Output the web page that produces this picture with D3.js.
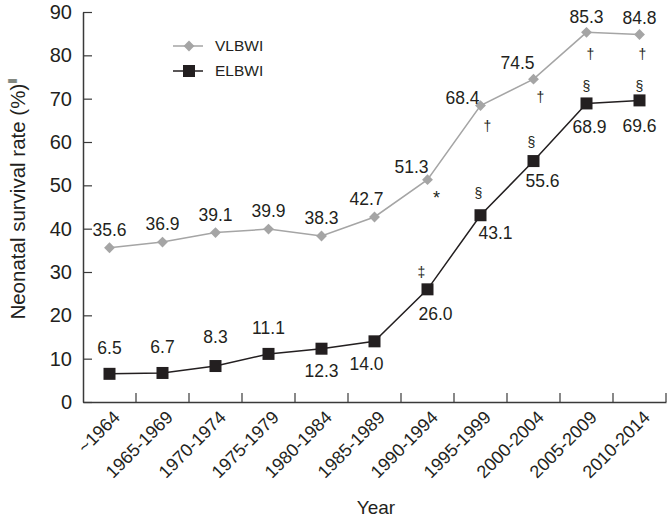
<!DOCTYPE html>
<html>
<head>
<meta charset="utf-8">
<script src="https://cdn.jsdelivr.net/npm/d3@7/dist/d3.min.js"></script>
<style>
  html, body { margin: 0; padding: 0; background: #fff; }
  svg { display: block; }
  text { font-family: "Liberation Sans", Arial, Helvetica, sans-serif; fill: #231f20; }
</style>
</head>
<body>
<svg id="chart" width="668" height="521"></svg>
<script>
// ---- data ----
const categories = ["~1964", "1965-1969", "1970-1974", "1975-1979", "1980-1984", "1985-1989",
                    "1990-1994", "1995-1999", "2000-2004", "2005-2009", "2010-2014"];
const vlbwi = [35.6, 36.9, 39.1, 39.9, 38.3, 42.7, 51.3, 68.4, 74.5, 85.3, 84.8];
const elbwi = [6.5, 6.7, 8.3, 11.1, 12.3, 14.0, 26.0, 43.1, 55.6, 68.9, 69.6];
const vlbwiMarks = ["", "", "", "", "", "", "*", "\u2020", "\u2020", "\u2020", "\u2020"];
const elbwiMarks = ["", "", "", "", "", "", "\u2021", "\u00a7", "\u00a7", "\u00a7", "\u00a7"];
const yTicks = [0, 10, 20, 30, 40, 50, 60, 70, 80, 90];
const seriesNames = ["VLBWI", "ELBWI"];

// ---- label placement (offsets from the point, px) ----
const vLabelOff = [[0,-18],[0,-18],[0,-18],[0,-18],[0,-18],[-8,-18],[-16,-13],[-18,-8],[-16,-16],[0,-15],[0,-17]];
const vMarkOff  = [null,null,null,null,null,null,[9,18],[7,20],[7,18],[4,22],[3,20]];
const eLabelOff = [[0,-26],[0,-26],[0,-29],[0,-26],[0,22],[-8,23],[8,25],[15,18],[9,20],[3,23],[0,25]];
const eMarkOff  = [null,null,null,null,null,null,[-6,-17],[-2,-22],[-2,-19],[0,-17],[0,-14]];

(function () {
const svg = d3.select("#chart");
const mLeft = 83, mRight = 666, mTop = 12, mBottom = 402;

const x = d3.scaleBand().domain(categories).range([mLeft, mRight]).padding(0);
const y = d3.scaleLinear().domain([0, 90]).range([mBottom, mTop]);
const cx = c => x(c) + x.bandwidth() / 2;

const axisColor = "#3a3a3a";

// Y axis
const yAxis = svg.append("g").attr("transform", `translate(${mLeft},0)`)
  .call(d3.axisLeft(y).tickValues(yTicks).tickSizeInner(-9).tickSizeOuter(0).tickPadding(11));
yAxis.select(".domain").attr("stroke", axisColor).attr("stroke-width", 1.5);
yAxis.selectAll(".tick line").attr("stroke", axisColor).attr("stroke-width", 1.2);
yAxis.selectAll(".tick text").attr("font-size", 20).attr("font-family", null).attr("fill", "#231f20");

// X axis
const xAxis = svg.append("g").attr("transform", `translate(0,${mBottom})`)
  .call(d3.axisBottom(x).tickSize(0).tickPadding(0));
xAxis.select(".domain").attr("stroke", axisColor).attr("stroke-width", 1.5);
xAxis.selectAll(".tick text")
  .attr("font-size", 18).attr("font-family", null).attr("fill", "#231f20")
  .attr("text-anchor", "end")
  .attr("transform", "translate(7,12) rotate(-45)")
  .attr("dy", "0.35em").attr("y", 0);
// boundary tick marks
xAxis.selectAll("line.bt").data(categories).enter().append("line")
  .attr("class", "bt")
  .attr("x1", d => x(d) + x.bandwidth()).attr("x2", d => x(d) + x.bandwidth())
  .attr("y1", 0).attr("y2", -9)
  .attr("stroke", axisColor).attr("stroke-width", 1.2);

// Axis titles
svg.append("text").attr("x", 376).attr("y", 514).attr("text-anchor", "middle")
  .attr("font-size", 19).text("Year");
const yt = svg.append("text").attr("transform", "translate(25,199) rotate(-90)")
  .attr("text-anchor", "middle").attr("font-size", 20.5);
yt.append("tspan").text("Neonatal survival rate (%)");
yt.append("tspan").attr("dy", -8).attr("font-size", 13).text("\u2016");

// Lines
const line = d3.line().x((d, i) => cx(categories[i])).y(d => y(d));
const grey = "#a5a5a5", dark = "#231f20";
svg.append("path").datum(vlbwi).attr("d", line).attr("fill", "none").attr("stroke", grey).attr("stroke-width", 1.5);
svg.append("path").datum(elbwi).attr("d", line).attr("fill", "none").attr("stroke", dark).attr("stroke-width", 1.5);

// Markers
const diamond = d3.symbol().type(d3.symbolDiamond2).size(75);
svg.selectAll("path.vm").data(vlbwi).enter().append("path").attr("class", "vm")
  .attr("d", diamond)
  .attr("transform", (d, i) => `translate(${cx(categories[i])},${y(d)})`)
  .attr("fill", grey);
svg.selectAll("rect.em").data(elbwi).enter().append("rect").attr("class", "em")
  .attr("x", (d, i) => cx(categories[i]) - 6).attr("y", d => y(d) - 6)
  .attr("width", 12).attr("height", 12).attr("fill", dark);

// Value labels
function addLabels(vals, off, cls) {
  svg.selectAll("text." + cls).data(vals).enter().append("text").attr("class", cls)
    .attr("x", (d, i) => cx(categories[i]) + off[i][0])
    .attr("y", (d, i) => y(d) + off[i][1])
    .attr("dy", "0.35em").attr("text-anchor", "middle").attr("font-size", 17.5)
    .text(d => d.toFixed(1));
}
addLabels(vlbwi, vLabelOff, "vl");
addLabels(elbwi, eLabelOff, "el");

function addMarks(vals, marks, off, cls) {
  svg.selectAll("text." + cls).data(vals.map((v, i) => i).filter(i => off[i])).enter().append("text").attr("class", cls)
    .attr("x", i => cx(categories[i]) + off[i][0])
    .attr("y", i => y(vals[i]) + off[i][1])
    .attr("dy", "0.35em").attr("text-anchor", "middle")
    .attr("font-size", i => marks[i] === "*" ? 18 : 14)
    .text(i => marks[i]);
}
addMarks(vlbwi, vlbwiMarks, vMarkOff, "vs");
addMarks(elbwi, elbwiMarks, eMarkOff, "es");

// Legend
const legend = svg.append("g");
const legY = [46, 71];
legend.append("line").attr("x1", 173).attr("x2", 203).attr("y1", legY[0]).attr("y2", legY[0]).attr("stroke", grey).attr("stroke-width", 1.5);
legend.append("path").attr("d", diamond).attr("transform", `translate(189,${legY[0]})`).attr("fill", grey);
legend.append("line").attr("x1", 173).attr("x2", 203).attr("y1", legY[1]).attr("y2", legY[1]).attr("stroke", dark).attr("stroke-width", 1.5);
legend.append("rect").attr("x", 183).attr("y", legY[1] - 6).attr("width", 12).attr("height", 12).attr("fill", dark);
legend.selectAll("text.lg").data(seriesNames).enter().append("text").attr("class", "lg")
  .attr("x", 215).attr("y", (d, i) => legY[i]).attr("dy", "0.35em").attr("font-size", 15.5).text(d => d);
})();
</script>
</body>
</html>
